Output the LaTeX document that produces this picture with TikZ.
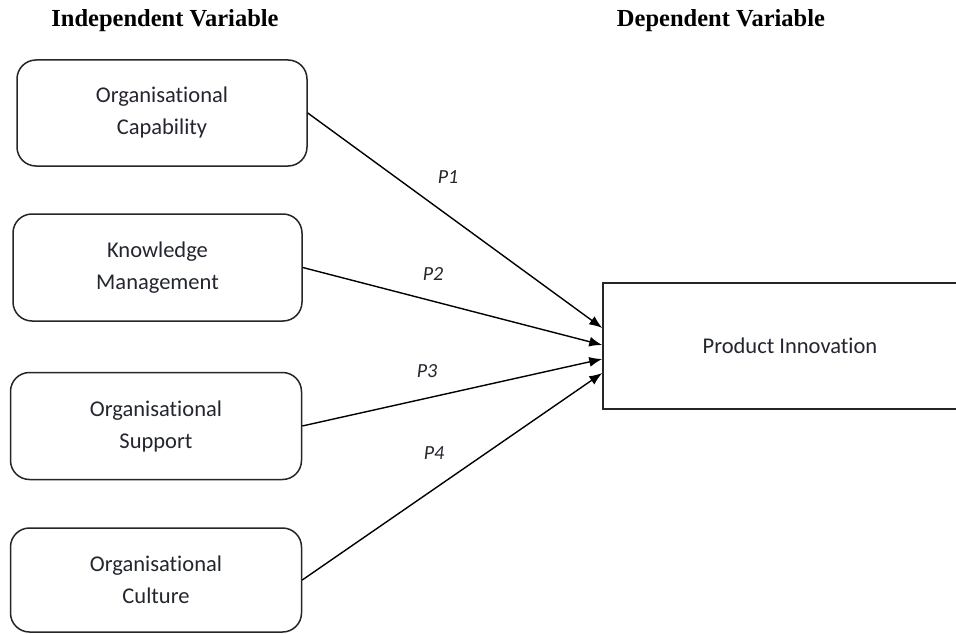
\documentclass[tikz,border=0pt]{standalone}
\usepackage{fontspec}
\setmainfont{Liberation Serif}
\newfontfamily\bodyfont[Ligatures=NoCommon]{Carlito}
\usetikzlibrary{arrows.meta}
\definecolor{boxtext}{HTML}{23262E}
\begin{document}
\begin{tikzpicture}[x=1pt,y=-1pt,
  heading/.style={font=\bfseries\fontsize{24.5}{28}\selectfont, text=black},
  varbox/.style={draw=black!85, line width=1.5pt, rounded corners=19pt,
    align=center, text=boxtext, inner sep=0pt,
    font=\bodyfont\fontsize{22.5}{32}\selectfont},
  outbox/.style={draw=black!85, line width=1.5pt, inner sep=0pt,
    text=boxtext, font=\bodyfont\fontsize{22.5}{26}\selectfont},
  plabel/.style={font=\bodyfont\itshape\fontsize{20}{22}\selectfont, text=boxtext},
  link/.style={line width=1.4pt, -{Latex[length=13pt,width=10pt]}}]
\clip (0,0) rectangle (956,634);
\fill[white] (0,0) rectangle (956,634);

% column headings
\node[heading] (hind) at (165,21) {Independent Variable};
\node[heading] (hdep) at (721,21) {Dependent Variable};

% independent variables
\node[varbox, minimum width=290pt, minimum height=106pt] (cap) at (162,113)
  {Organisational\\Capability};
\node[varbox, minimum width=289pt, minimum height=107pt] (km) at (157.5,267.5)
  {Knowledge\\Management};
\node[varbox, minimum width=291pt, minimum height=107pt] (sup) at (156,426)
  {Organisational\\Support};
\node[varbox, minimum width=291pt, minimum height=104pt] (cul) at (156,580)
  {Organisational\\Culture};

% dependent variable
\node[outbox, minimum width=374pt, minimum height=126pt] (pi) at (790,346)
  {Product Innovation};

% propositions
\draw[link] (cap.east) -- ([yshift=18pt]pi.west);
\draw[link] (km.east)  -- ([yshift=1pt]pi.west);
\draw[link] (sup.east) -- ([yshift=-13pt]pi.west);
\draw[link] (cul.east) -- ([yshift=-27pt]pi.west);

\node[plabel] (p1) at (448,177) {P1};
\node[plabel] (p2) at (433,274) {P2};
\node[plabel] (p3) at (427,371) {P3};
\node[plabel] (p4) at (434,453) {P4};
\end{tikzpicture}
\end{document}
